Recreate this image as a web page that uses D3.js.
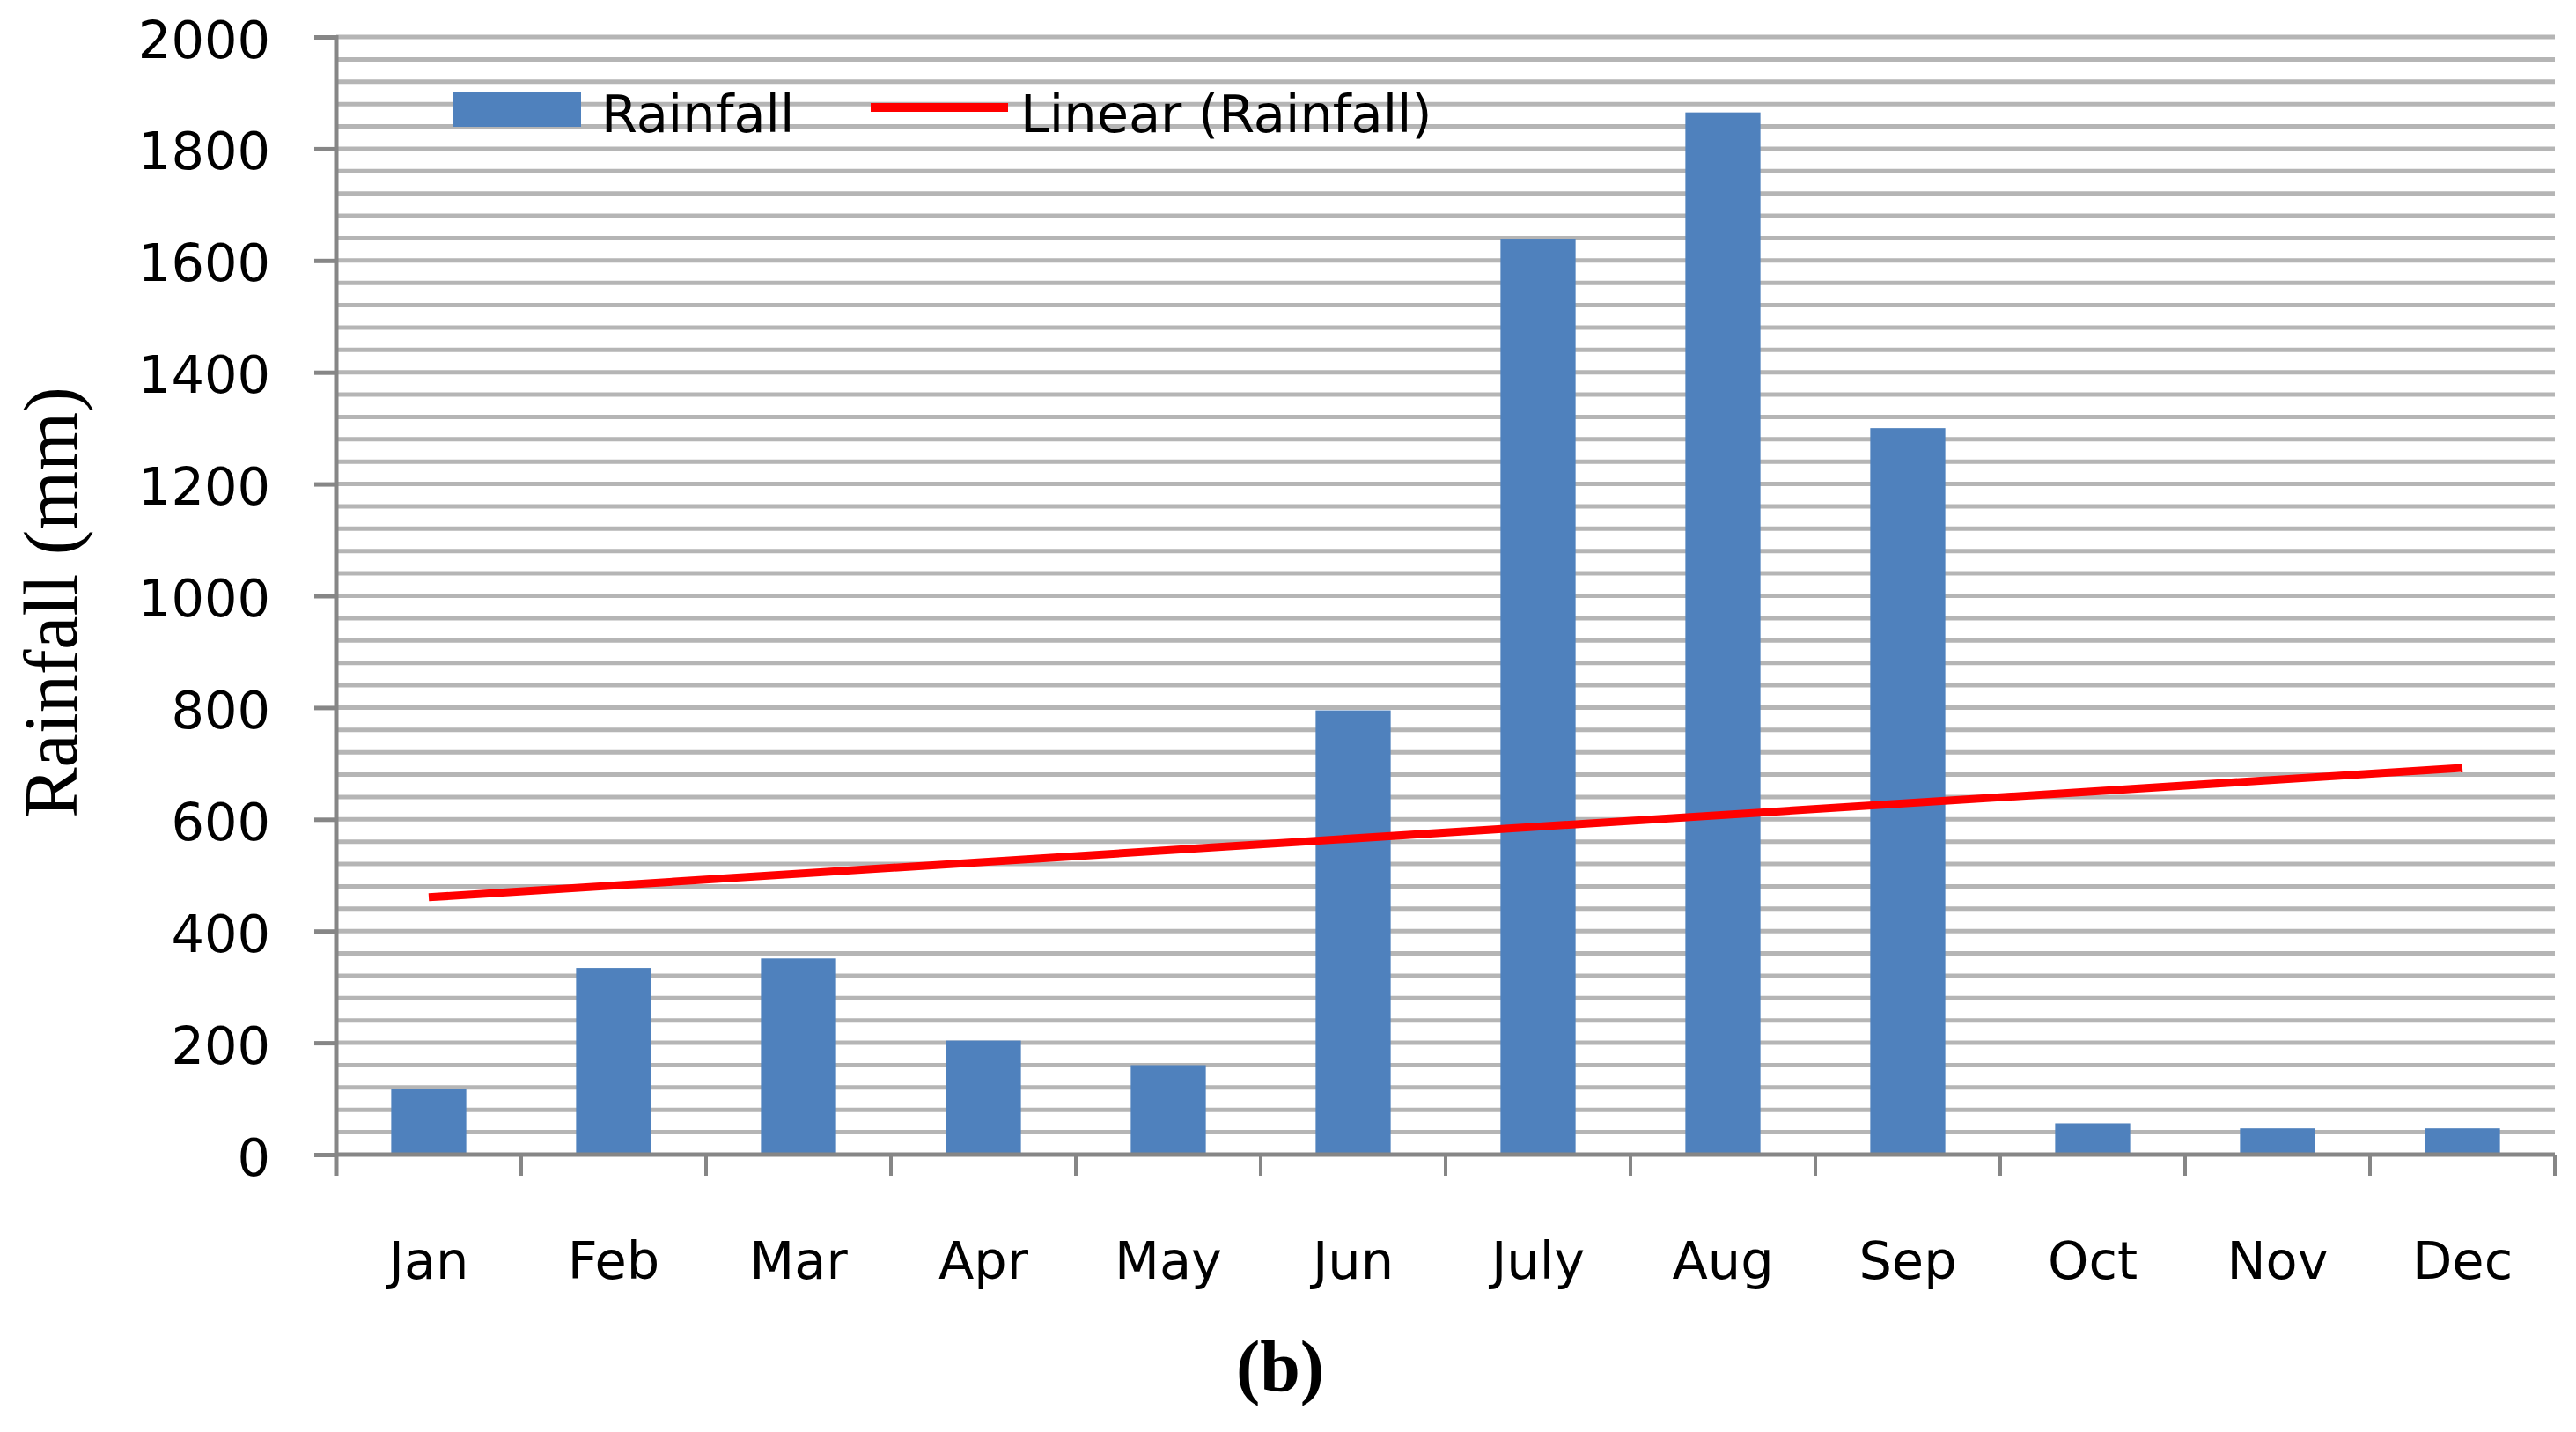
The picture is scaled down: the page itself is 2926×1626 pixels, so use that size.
<!DOCTYPE html>
<html>
<head>
<meta charset="utf-8">
<script src="https://cdn.jsdelivr.net/npm/d3@7"></script>
<style>
  body { margin: 0; background: #fff; }
  svg { display: block; }
  .axis text { font-family: "DejaVu Sans", Verdana, sans-serif; font-size: 59px; fill: #000; }
</style>
</head>
<body>
<div id="chart"></div>
<script>
// data
const months = ["Jan", "Feb", "Mar", "Apr", "May", "Jun", "July", "Aug", "Sep", "Oct", "Nov", "Dec"];
const rainfall = [117, 334, 351, 204, 160, 795, 1639, 1865, 1300, 56, 47, 47];
const yTicks = [0, 200, 400, 600, 800, 1000, 1200, 1400, 1600, 1800, 2000];
const gridStep = 40;

let width = 2926, height = 1626;
let margin = {top: 42, right: 24, bottom: 315, left: 382};
let innerWidth = width - margin.left - margin.right;
let innerHeight = height - margin.top - margin.bottom;

let svg = d3.select("#chart").append("svg")
  .attr("width", width)
  .attr("height", height);

let g = svg.append("g")
  .attr("transform", "translate(" + margin.left + "," + margin.top + ")");

let xScale = d3.scaleBand()
  .domain(months)
  .range([0, innerWidth])
  .paddingInner(0.594)
  .paddingOuter(0.297);
let xBand = d3.scaleBand().domain(months).range([0, innerWidth]);
let yScale = d3.scaleLinear().domain([0, 2000]).range([innerHeight, 0]);

// horizontal gridlines every 40
let gridVals = d3.range(gridStep, 2000 + 1, gridStep);
g.append("g").selectAll("line")
  .data(gridVals)
  .join("line")
  .attr("x1", 0)
  .attr("x2", innerWidth)
  .attr("y1", d => yScale(d))
  .attr("y2", d => yScale(d))
  .attr("stroke", "#b5b5b5")
  .attr("stroke-width", 5);

// bars
g.selectAll(".bar")
  .data(rainfall)
  .join("rect")
  .attr("class", "bar")
  .attr("fill", "#4f81bd")
  .attr("x", (d, i) => xScale(months[i]))
  .attr("y", d => yScale(d))
  .attr("width", xScale.bandwidth())
  .attr("height", d => yScale(0) - yScale(d));

// linear trend (least squares on month index)
let n = rainfall.length;
let xs = d3.range(1, n + 1);
let mx = d3.mean(xs), my = d3.mean(rainfall);
let slope = d3.sum(xs, (x, i) => (x - mx) * (rainfall[i] - my)) / d3.sum(xs, x => (x - mx) * (x - mx));
let intercept = my - slope * mx;
let trend = [[months[0], intercept + slope * 1], [months[n - 1], intercept + slope * n]];
let line = d3.line()
  .x(d => xBand(d[0]) + xBand.bandwidth() / 2)
  .y(d => yScale(d[1]));
g.append("path")
  .datum(trend)
  .attr("d", line)
  .attr("fill", "none")
  .attr("stroke", "#ff0000")
  .attr("stroke-width", 9);

// y axis
let yAxis = d3.axisLeft(yScale).tickValues(yTicks).tickFormat(d3.format("d"))
  .tickSize(25).tickPadding(50);
let yG = g.append("g").attr("class", "axis y-axis").call(yAxis);
yG.select(".domain").remove();
yG.selectAll(".tick line").attr("stroke", "#868686").attr("stroke-width", 5);
yG.selectAll(".tick text").attr("dy", "0.39em");
g.append("line")
  .attr("x1", 0).attr("x2", 0)
  .attr("y1", yScale(2000) - 2).attr("y2", innerHeight + 24)
  .attr("stroke", "#868686").attr("stroke-width", 5);

// x axis
let xAxis = d3.axisBottom(xBand).tickSize(0).tickPadding(0);
let xG = g.append("g").attr("class", "axis x-axis")
  .attr("transform", "translate(0," + innerHeight + ")")
  .call(xAxis);
xG.select(".domain").remove();
xG.selectAll(".tick text").attr("dy", null).attr("y", 141);
g.append("line")
  .attr("x1", -2).attr("x2", innerWidth)
  .attr("y1", innerHeight).attr("y2", innerHeight)
  .attr("stroke", "#868686").attr("stroke-width", 5);
let bounds = months.map(m => xBand(m)).concat([innerWidth]);
g.append("g").selectAll("line")
  .data(bounds)
  .join("line")
  .attr("x1", d => d).attr("x2", d => d)
  .attr("y1", innerHeight).attr("y2", innerHeight + 24)
  .attr("stroke", "#868686").attr("stroke-width", 4);

// legend
let legend = svg.append("g")
  .style("font-family", "DejaVu Sans, Verdana, sans-serif")
  .style("font-size", "59px");
legend.append("rect")
  .attr("x", 514).attr("y", 105).attr("width", 146).attr("height", 39)
  .attr("fill", "#4f81bd");
legend.append("text").attr("x", 683).attr("y", 150).text("Rainfall");
legend.append("line")
  .attr("x1", 989).attr("x2", 1145).attr("y1", 122).attr("y2", 122)
  .attr("stroke", "#ff0000").attr("stroke-width", 10);
legend.append("text").attr("x", 1159).attr("y", 150).text("Linear (Rainfall)");

// y axis title
svg.append("text")
  .attr("transform", "translate(87,684) rotate(-90)")
  .attr("text-anchor", "middle")
  .style("font-family", "Liberation Serif, Times New Roman, serif")
  .style("font-size", "86px")
  .text("Rainfall (mm)");

// panel caption
svg.append("text")
  .attr("x", 1454).attr("y", 1579)
  .attr("text-anchor", "middle")
  .style("font-family", "Liberation Serif, Times New Roman, serif")
  .style("font-weight", "bold")
  .style("font-size", "82px")
  .text("(b)");
</script>
</body>
</html>
